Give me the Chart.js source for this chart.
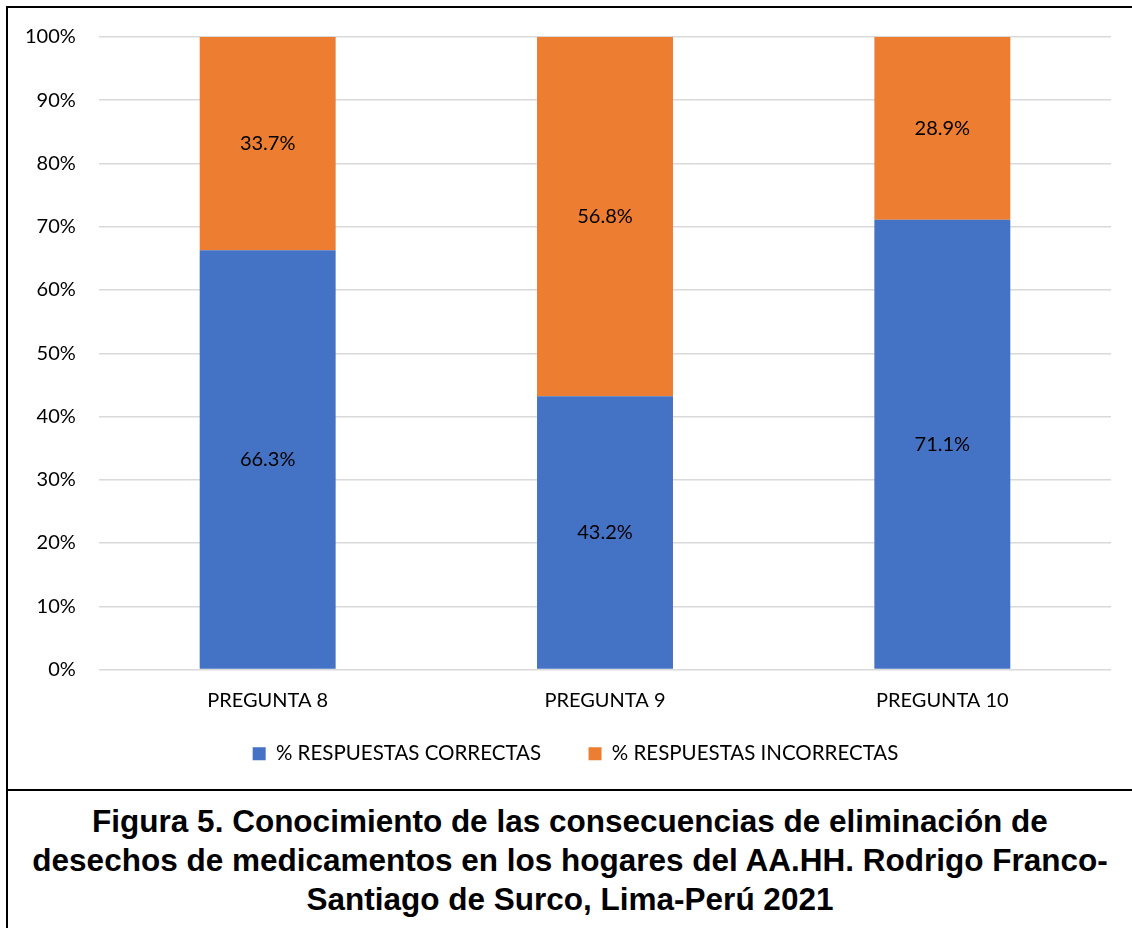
<!DOCTYPE html>
<html>
<head>
<meta charset="utf-8">
<script src="https://cdn.jsdelivr.net/npm/chart.js@4"></script>
<style>
  html, body { margin: 0; padding: 0; background: #fff; width: 1132px; height: 928px; overflow: hidden; }
  #box { position: absolute; left: 6px; top: 6px; width: 1140px; height: 781px; border: 2px solid #000; box-sizing: content-box; }
  #wrap { position: absolute; left: 0; top: 0; width: 1132px; height: 790px; }
  #cap { position: absolute; left: 6px; top: 790px; width: 1126px; height: 150px; border-left: 2px solid #000;
         font-family: "Liberation Sans", Arial, sans-serif; font-weight: bold; font-size: 31.5px; line-height: 39px;
         text-align: center; color: #000; padding-top: 12px; box-sizing: border-box; white-space: nowrap; }
</style>
</head>
<body>
<div id="box"></div>
<div id="wrap"><canvas id="c" width="1132" height="790"></canvas></div>
<div id="cap">Figura 5. Conocimiento de las consecuencias de eliminación de<br>desechos de medicamentos en los hogares del AA.HH. Rodrigo Franco-<br>Santiago de Surco, Lima-Perú 2021</div>
<script>
const categories = ["PREGUNTA 8", "PREGUNTA 9", "PREGUNTA 10"];
const correctas = [66.3, 43.2, 71.1];
const incorrectas = [33.7, 56.8, 28.9];
const seriesNames = ["% RESPUESTAS CORRECTAS", "% RESPUESTAS INCORRECTAS"];

const FONT = "Lato, 'Open Sans', sans-serif";

const labelPlugin = {
  id: 'barLabels',
  afterDatasetsDraw(chart) {
    const ctx = chart.ctx;
    ctx.save();
    ctx.font = "20px " + FONT;
    ctx.fillStyle = "#000";
    ctx.textAlign = "center";
    ctx.textBaseline = "middle";
    chart.data.datasets.forEach((ds, i) => {
      const meta = chart.getDatasetMeta(i);
      meta.data.forEach((el, j) => {
        const y = (el.y + el.base) / 2;
        ctx.fillText(ds.data[j].toFixed(1) + "%", el.x, y);
      });
    });
    ctx.restore();
  }
};

new Chart(document.getElementById('c'), {
  type: 'bar',
  data: {
    labels: categories,
    datasets: [
      { label: seriesNames[0], data: correctas, backgroundColor: '#4472C4', barPercentage: 0.403, categoryPercentage: 1 },
      { label: seriesNames[1], data: incorrectas, backgroundColor: '#ED7D31', barPercentage: 0.403, categoryPercentage: 1 }
    ]
  },
  options: {
    responsive: false,
    animation: false,
    devicePixelRatio: 1,
    layout: { padding: { left: 40, right: 21, top: 37, bottom: 16 } },
    plugins: {
      tooltip: { enabled: false },
      legend: {
        position: 'bottom',
        labels: {
          font: { family: FONT, size: 20.5 }, color: '#000', boxWidth: 13, boxHeight: 13, padding: 16,
          generateLabels(chart) {
            const items = Chart.defaults.plugins.legend.labels.generateLabels(chart);
            items.forEach((it, i) => { if (i < items.length - 1) it.text = it.text + '      '; });
            return items;
          }
        }
      }
    },
    scales: {
      x: {
        stacked: true,
        grid: { display: false, drawTicks: false },
        border: { display: false },
        ticks: { font: { family: FONT, size: 20 }, color: '#000', padding: 19 },
        afterFit(s) { s.height = 58; }
      },
      y: {
        stacked: true,
        min: 0, max: 100,
        ticks: { stepSize: 10, font: { family: FONT, size: 20 }, color: '#000', mirror: true, crossAlign: 'far', padding: -74, callback: v => v + '%' },
        grid: { color: '#d9d9d9', lineWidth: 1.5, drawTicks: false },
        border: { display: false },
        afterFit(s) { s.width = 59; }
      }
    }
  },
  plugins: [labelPlugin]
});
</script>
</body>
</html>
